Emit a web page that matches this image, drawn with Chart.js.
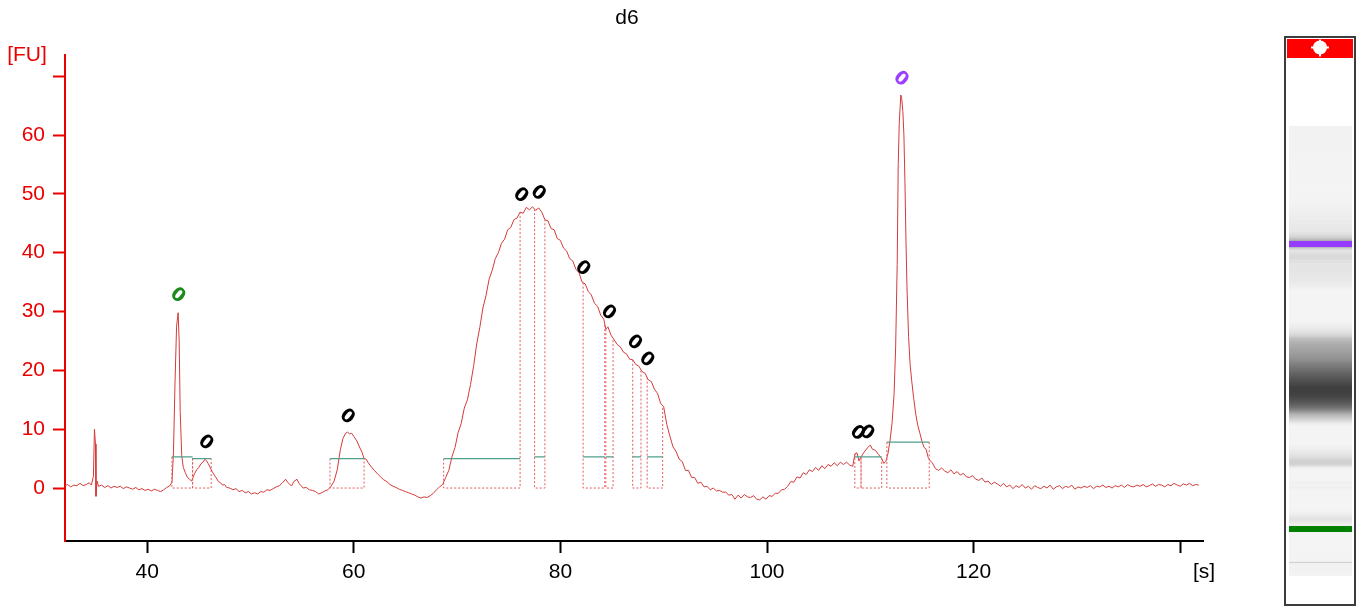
<!DOCTYPE html>
<html>
<head>
<meta charset="utf-8">
<script src="https://cdn.jsdelivr.net/npm/chart.js@4.4.1/dist/chart.umd.min.js"></script>
<style>
  html, body { margin: 0; padding: 0; background: #fff; }
  #wrap { position: relative; width: 1361px; height: 609px; }
</style>
</head>
<body>
<div id="wrap"><canvas id="chart" width="1361" height="609"></canvas></div>
<script>
// Electropherogram trace, sample d6: migration time [s] and fluorescence [FU]
var times = [
  32.0, 32.3, 32.6, 32.9, 33.2, 33.5, 33.8, 34.1, 34.4, 34.6, 34.8, 34.9, 35.0, 35.05, 35.15, 35.3, 35.6, 35.9,
  36.2, 36.5, 36.8, 37.1, 37.4, 37.7, 38.0, 38.3, 38.6, 38.9, 39.2, 39.5, 39.8, 40.1, 40.4, 40.7, 41.0, 41.3,
  41.6, 41.9, 42.2, 42.4, 42.55, 42.7, 42.85, 43.0, 43.1, 43.2, 43.35, 43.5, 43.7, 43.9, 44.1, 44.3, 44.45, 44.6,
  44.8, 45.0, 45.2, 45.4, 45.6, 45.75, 45.9, 46.1, 46.3, 46.5, 46.7, 46.9, 47.1, 47.3, 47.5, 47.7, 48.0, 48.3,
  48.6, 48.9, 49.2, 49.5, 49.8, 50.1, 50.4, 50.7, 51.0, 51.3, 51.6, 51.9, 52.2, 52.5, 52.8, 53.1, 53.4, 53.6,
  53.8, 54.0, 54.2, 54.5, 54.7, 54.9, 55.1, 55.4, 55.7, 56.0, 56.3, 56.6, 56.9, 57.2, 57.5, 57.8, 58.1, 58.4,
  58.7, 58.95, 59.2, 59.4, 59.6, 59.8, 60.0, 60.3, 60.6, 60.8, 61.0, 61.2, 61.4, 61.7, 62.0, 62.3, 62.6, 62.9,
  63.2, 63.5, 63.8, 64.1, 64.4, 64.7, 65.0, 65.3, 65.6, 65.9, 66.2, 66.5, 66.8, 67.1, 67.4, 67.7, 68.0, 68.3,
  68.6, 68.9, 69.2, 69.5, 69.8, 70.1, 70.4, 70.7, 71.0, 71.3, 71.6, 71.9, 72.2, 72.5, 72.8, 73.1, 73.4, 73.7,
  74.0, 74.3, 74.6, 74.9, 75.2, 75.5, 75.8, 76.1, 76.4, 76.7, 77.0, 77.3, 77.6, 77.9, 78.2, 78.5, 78.8, 79.1,
  79.4, 79.7, 80.0, 80.3, 80.6, 80.9, 81.2, 81.5, 81.8, 82.1, 82.4, 82.7, 83.0, 83.3, 83.6, 83.9, 84.2, 84.4,
  84.6, 84.9, 85.2, 85.5, 85.8, 86.1, 86.4, 86.7, 87.0, 87.3, 87.6, 87.9, 88.2, 88.5, 88.8, 89.1, 89.4, 89.7,
  90.0, 90.3, 90.6, 90.9, 91.2, 91.5, 91.8, 92.1, 92.4, 92.7, 93.0, 93.3, 93.6, 93.9, 94.2, 94.5, 94.8, 95.1,
  95.4, 95.7, 96.0, 96.3, 96.6, 96.9, 97.2, 97.5, 97.8, 98.1, 98.4, 98.7, 99.0, 99.3, 99.6, 99.9, 100.2, 100.5,
  100.8, 101.1, 101.4, 101.7, 102.0, 102.3, 102.6, 102.9, 103.2, 103.5, 103.8, 104.1, 104.4, 104.7, 105.0, 105.3,
  105.6, 105.9, 106.2, 106.5, 106.8, 107.1, 107.4, 107.7, 108.0, 108.3, 108.5, 108.7, 108.9, 109.1, 109.4, 109.7,
  110.0, 110.2, 110.5, 110.8, 111.1, 111.3, 111.5, 111.7, 111.9, 112.1, 112.3, 112.45, 112.6, 112.7, 112.8, 112.95,
  113.05, 113.15, 113.25, 113.35, 113.45, 113.55, 113.7, 113.85, 114.0, 114.2, 114.4, 114.6, 114.8, 115.0, 115.2, 115.4,
  115.6, 115.8, 116.0, 116.3, 116.6, 116.9, 117.2, 117.5, 117.8, 118.1, 118.4, 118.7, 119.0, 119.3, 119.6, 119.9,
  120.2, 120.5, 120.8, 121.1, 121.4, 121.7, 122.0, 122.3, 122.6, 122.9, 123.2, 123.5, 123.8, 124.1, 124.4, 124.7,
  125.0, 125.3, 125.6, 125.9, 126.2, 126.5, 126.8, 127.1, 127.4, 127.7, 128.0, 128.3, 128.6, 128.9, 129.2, 129.5,
  129.8, 130.1, 130.4, 130.7, 131.0, 131.3, 131.6, 131.9, 132.2, 132.5, 132.8, 133.1, 133.4, 133.7, 134.0, 134.3,
  134.6, 134.9, 135.2, 135.5, 135.8, 136.1, 136.4, 136.7, 137.0, 137.3, 137.6, 137.9, 138.2, 138.5, 138.8, 139.1,
  139.4, 139.7, 140.0, 140.3, 140.6, 140.9, 141.2, 141.5, 141.8
];
var fu = [
  0.3, 0.6, 0.2, 0.5, 0.4, 0.8, 0.4, 0.6, 0.9, 0.5, 2.0, 10.0, 7.5, -1.4, 1.2, 0.3, 0.5, 0.1,
  0.4, 0.0, 0.3, 0.1, 0.3, -0.1, 0.2, 0.0, -0.2, 0.1, -0.3, -0.1, -0.4, -0.2, -0.5, -0.2, -0.4, -0.6,
  -0.3, 0.1, 0.4, 1.0, 6.0, 18.0, 27.5, 29.8, 25.0, 13.0, 5.5, 3.5, 2.6, 1.8, 1.5, 1.2, 1.8, 2.5,
  3.1, 3.5, 4.1, 4.4, 4.9, 4.6, 4.2, 3.5, 2.8, 2.2, 1.7, 1.1, 0.9, 0.5, 0.6, 0.1, 0.0, -0.3,
  -0.1, -0.6, -0.4, -0.8, -0.6, -1.0, -0.8, -1.0, -0.6, -0.7, -0.3, -0.4, -0.1, 0.2, 0.4, 0.9, 1.5, 1.0,
  0.6, 0.4, 1.1, 1.5, 0.8, 0.4, 0.0, 0.1, -0.3, -0.4, -0.6, -1.0, -0.8, -0.5, -0.3, 0.3, 1.2, 3.1,
  6.5, 8.4, 9.3, 9.5, 9.2, 9.3, 8.8, 8.0, 6.8, 6.1, 5.0, 4.9, 4.3, 3.6, 3.0, 2.4, 1.9, 1.4,
  1.1, 0.6, 0.3, 0.1, -0.2, -0.4, -0.6, -0.8, -1.0, -1.2, -1.5, -1.7, -1.5, -1.6, -1.3, -0.9, -0.3, 0.2,
  0.6, 1.8, 3.0, 5.3, 6.9, 9.4, 11.0, 13.6, 15.0, 17.6, 20.7, 24.5, 27.3, 30.6, 32.7, 35.5, 37.0, 39.0,
  40.0, 41.6, 42.3, 43.9, 44.3, 45.6, 45.9, 46.9, 46.7, 47.7, 47.3, 47.8, 47.2, 47.6, 46.9, 45.6, 45.4, 44.1,
  43.9, 42.4, 42.1, 40.8, 40.3, 39.0, 38.6, 37.2, 36.6, 35.0, 34.7, 33.4, 32.8, 31.4, 30.9, 29.4, 28.7, 27.0,
  27.4, 26.0, 25.2, 24.4, 24.0, 23.1, 22.8, 21.9, 21.8, 21.0, 20.7, 19.8, 19.5, 18.4, 18.1, 16.8, 16.1, 14.4,
  13.8, 10.8, 8.8, 7.0, 6.2, 4.9, 4.5, 3.0, 3.0, 1.8, 1.8, 0.8, 1.0, 0.2, 0.3, -0.3, 0.0, -0.5,
  -0.4, -0.7, -0.7, -1.2, -1.1, -1.9, -1.2, -1.7, -1.1, -1.5, -1.6, -1.3, -1.9, -2.0, -1.5, -1.9, -1.3, -1.4,
  -0.9, -0.9, -0.3, -0.2, 0.3, 1.1, 1.0, 1.9, 1.7, 2.6, 2.3, 3.1, 2.8, 3.5, 3.0, 3.8,
  3.3, 4.0, 3.7, 4.3, 3.8, 4.4, 4.0, 4.4, 3.9, 3.7, 5.8, 6.0, 4.6, 5.3, 6.1, 6.8,
  7.3, 6.6, 6.4, 5.7, 5.0, 4.2, 4.5, 5.8, 8.0, 11.0, 16.0, 24.0, 38.0, 55.0, 62.0, 66.8,
  66.0, 64.0, 60.0, 52.0, 42.0, 34.0, 25.8, 21.0, 18.3, 15.2, 12.5, 10.6, 9.3, 7.9, 6.9, 6.6,
  5.2, 4.6, 4.3, 3.3, 3.0, 3.4, 2.9, 2.6, 3.1, 2.4, 2.8, 2.2, 2.5, 1.9, 1.8, 2.1,
  1.5, 1.3, 1.7, 1.0, 1.2, 0.6, 1.0, 0.7, 0.3, 0.8, 0.2, 0.5, -0.1, 0.4, 0.1, 0.6,
  0.0, 0.3, -0.2, 0.4, 0.1, -0.1, 0.3, 0.0, 0.5, -0.2, 0.2, 0.4, -0.1, 0.3, 0.1, 0.5,
  -0.2, 0.2, 0.0, 0.3, 0.1, 0.4, -0.1, 0.3, 0.2, 0.5, 0.1, 0.3, 0.0, 0.4, 0.2, 0.5,
  0.1, 0.6, 0.3, 0.2, 0.5, 0.3, 0.6, 0.2, 0.4, 0.7, 0.3, 0.6, 0.5, 0.2, 0.6, 0.4,
  0.8, 0.5, 0.3, 0.7, 0.5, 0.8, 0.4, 0.6, 0.5
];

// integrated peak regions [s] and their baseline level [FU]
var regionStart = [42.4, 44.4, 57.7, 68.7, 77.5, 82.2, 84.4, 87.0, 88.4, 108.5, 109.1, 111.6];
var regionEnd   = [44.4, 46.2, 61.0, 76.1, 78.5, 84.3, 85.1, 87.8, 89.9, 109.1, 111.1, 115.7];
var regionLevel = [5.3, 5.0, 5.0, 5.0, 5.3, 5.3, 5.3, 5.3, 5.3, 5.3, 5.3, 7.8];

// peak labels (size shown as 0)
var peakTimes  = [43.0, 45.7, 59.4, 76.2, 77.9, 82.2, 84.7, 87.2, 88.4, 108.8, 109.7, 113.0];
var peakLevels = [32.8, 7.8, 12.2, 49.8, 50.2, 37.4, 29.9, 24.8, 21.9, 9.4, 9.5, 69.6];
var peakColors = ["#1a8a1a", "#000", "#000", "#000", "#000", "#000", "#000", "#000", "#000", "#000", "#000", "#9b40ff"];

var xTicks = [40, 60, 80, 100, 120, 140];
var yTicks = [0, 10, 20, 30, 40, 50, 60, 70];

var lowerMarker = 43.0;
var upperMarker = 113.0;

var fontFamily = '"Liberation Sans", Arial, sans-serif';
var axisRed = "rgb(235,0,0)";

function valueAt(t) {
  if (t <= times[0]) return fu[0];
  for (var i = 1; i < times.length; i++) {
    if (times[i] >= t) {
      var f = (t - times[i - 1]) / (times[i] - times[i - 1]);
      return fu[i - 1] + f * (fu[i] - fu[i - 1]);
    }
  }
  return fu[fu.length - 1];
}

var tracePoints = times.map(function (t, i) { return { x: t, y: fu[i] }; });

// dotted boxes and the green baselines of each region
var boxPoints = [];
var levelPoints = [];
for (var i = 0; i < regionStart.length; i++) {
  var a = regionStart[i], b = regionEnd[i], lv = regionLevel[i];
  boxPoints.push({ x: a, y: Math.max(valueAt(a), lv) }, { x: a, y: 0 }, { x: b, y: 0 },
    { x: b, y: Math.max(valueAt(b), lv) }, { x: b, y: null });
  levelPoints.push({ x: a, y: lv }, { x: b, y: lv }, { x: b, y: null });
}

// text that is not part of an axis: title, units, peak labels
var extraText = {
  id: "extraText",
  afterDatasetsDraw: function (chart) {
    var ctx = chart.ctx, xs = chart.scales.x, ys = chart.scales.y;
    ctx.save();
    ctx.textAlign = "center";
    ctx.textBaseline = "middle";
    ctx.font = "21px " + fontFamily;
    ctx.fillStyle = "#000";
    ctx.fillText("d6", 627, 18);
    ctx.fillText("[s]", xs.right + 1, 572);
    ctx.fillStyle = axisRed;
    ctx.fillText("[FU]", 27, 55);

    ctx.font = "bold 19px \"DejaVu Sans\", sans-serif";
    for (var i = 0; i < peakTimes.length; i++) {
      ctx.save();
      ctx.translate(xs.getPixelForValue(peakTimes[i]), ys.getPixelForValue(peakLevels[i]));
      ctx.rotate(0.7);
      ctx.fillStyle = peakColors[i];
      ctx.fillText("0", 0, 1);
      ctx.restore();
    }
    ctx.restore();
  }
};

// virtual gel lane built from the same trace
var gelLane = {
  id: "gelLane",
  afterDraw: function (chart) {
    var ctx = chart.ctx;
    var left = 1289, width = 63, yUp = 244, yLow = 529;
    ctx.save();
    ctx.fillStyle = "#fff";
    ctx.fillRect(1285, 37, 70, 568);
    for (var y = 126; y <= 575; y++) {
      var t = lowerMarker + (yLow - y) * (upperMarker - lowerMarker) / (yLow - yUp);
      var v = Math.max(valueAt(t), 0);
      var g = Math.max(60, Math.round(244 - 3.8 * v));
      ctx.fillStyle = "rgb(" + g + "," + g + "," + g + ")";
      ctx.fillRect(left, y, width, 1);
    }
    ctx.fillStyle = "rgb(150,60,255)";
    ctx.fillRect(left, yUp - 3, width, 6);
    ctx.fillStyle = "rgb(0,128,0)";
    ctx.fillRect(left, yLow - 3, width, 6);

    ctx.fillStyle = "#ff0000";
    ctx.fillRect(1287, 39, 66, 19);
    ctx.fillStyle = "#fff";
    ctx.beginPath();
    ctx.arc(1320, 47.5, 7, 0, Math.PI * 2);
    ctx.fill();
    ctx.fillRect(1311, 46.5, 18, 2);
    ctx.fillRect(1319, 39.5, 2, 17);

    ctx.strokeStyle = "#3c3c3c";
    ctx.lineWidth = 2;
    ctx.strokeRect(1285, 37, 70, 568);
    ctx.restore();
  }
};

new Chart(document.getElementById("chart"), {
  type: "line",
  data: {
    datasets: [
      {
        data: levelPoints,
        borderColor: "rgb(80,160,140)",
        borderWidth: 1.2,
        pointRadius: 0,
        spanGaps: false
      },
      {
        data: boxPoints,
        borderColor: "rgb(228,90,90)",
        borderWidth: 1,
        borderDash: [2, 2],
        pointRadius: 0,
        spanGaps: false
      },
      {
        data: tracePoints,
        borderColor: "rgb(212,58,58)",
        borderWidth: 1,
        pointRadius: 0,
        tension: 0
      }
    ]
  },
  options: {
    responsive: false,
    animation: false,
    layout: { padding: { top: 55, right: 158, left: 0, bottom: 0 } },
    plugins: { legend: { display: false }, tooltip: { enabled: false }, title: { display: false } },
    scales: {
      x: {
        type: "linear",
        bounds: "data",
        min: 32.05,
        max: 142.2,
        afterFit: function (s) { s.height = 68; },
        afterBuildTicks: function (s) { s.ticks = xTicks.map(function (v) { return { value: v }; }); },
        grid: { drawOnChartArea: false, color: "#000", tickLength: 12, tickWidth: 2 },
        border: { color: "#000", width: 2 },
        ticks: {
          color: "#000",
          padding: 7,
          font: { family: fontFamily, size: 21 },
          callback: function (v) { return v === 140 ? "" : v; }
        }
      },
      y: {
        type: "linear",
        bounds: "data",
        min: -9,
        max: 73.6,
        afterFit: function (s) { s.width = 65; },
        afterBuildTicks: function (s) { s.ticks = yTicks.map(function (v) { return { value: v }; }); },
        grid: { drawOnChartArea: false, color: axisRed, tickLength: 12, tickWidth: 2 },
        border: { color: axisRed, width: 2 },
        ticks: {
          color: axisRed,
          padding: 8,
          font: { family: fontFamily, size: 21 },
          callback: function (v) { return v === 70 ? "" : v; }
        }
      }
    }
  },
  plugins: [extraText, gelLane]
});
</script>
</body>
</html>
